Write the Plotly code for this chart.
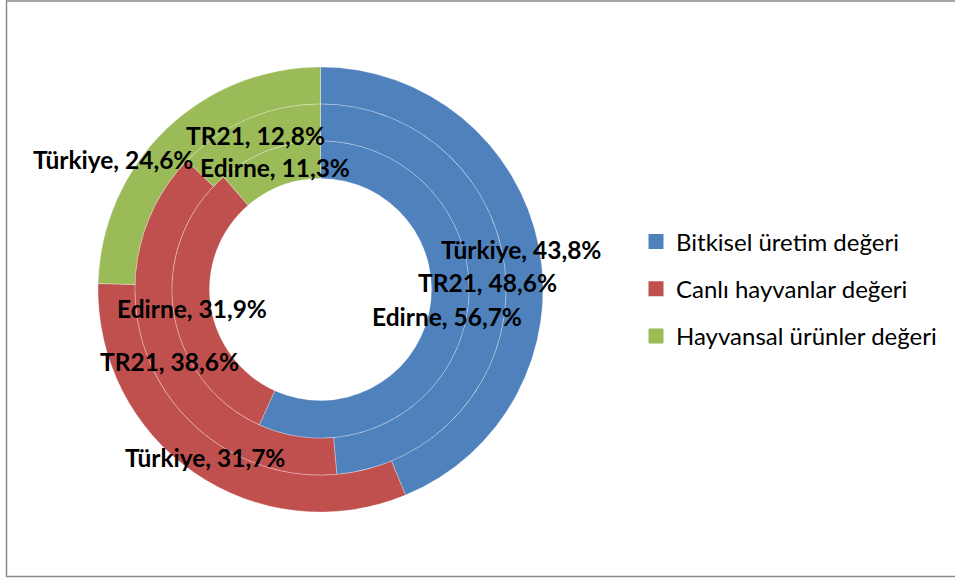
import math
import plotly.graph_objects as go

# ---- data ----
categories = ["Bitkisel üretim değeri", "Canlı hayvanlar değeri", "Hayvansal ürünler değeri"]
ring_names = ["Türkiye", "TR21", "Edirne"]          # outer -> inner
turkiye = [43.8, 31.7, 24.6]
tr21 = [48.6, 38.6, 12.8]
edirne = [56.7, 31.9, 11.3]
ring_values = [turkiye, tr21, edirne]
colors = ["#4F81BD", "#C0504D", "#9BBB59"]

# ---- layout geometry (pixels) ----
W, H = 955, 579
CX, CY = 320.5, 289.5
radii = [222.5, 185.5, 148.5, 111.0]
# manual label shift (Excel moved this label to avoid overlap)
label_shift = {(0, 2): (-65, 16)}

fig = go.Figure()
annotations = []
for i, (name, vals) in enumerate(zip(ring_names, ring_values)):
    r_out, r_in = radii[i], radii[i + 1]
    fig.add_trace(go.Pie(
        labels=categories, values=vals, name=name,
        sort=False, direction="clockwise", rotation=0,
        hole=r_in / r_out,
        marker=dict(colors=colors, line=dict(color="rgba(255,255,255,0.35)", width=0.8)),
        textinfo="none", hoverinfo="label+value+name",
        showlegend=False,
        domain=dict(x=[(CX - r_out) / W, (CX + r_out) / W],
                    y=[(H - CY - r_out) / H, (H - CY + r_out) / H]),
    ))
    total = sum(vals)
    cum = 0.0
    rm = (r_out + r_in) / 2
    for j, v in enumerate(vals):
        mid = (cum + v / 2) / total * 2 * math.pi
        cum += v
        px = CX + rm * math.sin(mid)
        py = CY - rm * math.cos(mid)
        dx, dy = label_shift.get((i, j), (0, 0))
        px += dx
        py += dy
        annotations.append(dict(
            x=px / W, y=1 - py / H, xref="paper", yref="paper",
            text=f"{name}, {v:.1f}%".replace(".", ","),
            showarrow=False, xanchor="center", yanchor="middle",
            font=dict(family="Lato", size=24.5, color="#000000", weight=700),
        ))

# legend entries
for cat, c in zip(categories, colors):
    fig.add_trace(go.Scatter(
        x=[None], y=[None], mode="markers", name=cat, legendgroup=cat,
        marker=dict(symbol="square", size=15, color=c), showlegend=True,
        hoverinfo="skip",
    ))

fig.update_layout(
    width=W, height=H,
    margin=dict(l=0, r=0, t=0, b=0),
    paper_bgcolor="white", plot_bgcolor="white",
    xaxis=dict(visible=False), yaxis=dict(visible=False),
    annotations=annotations,
    legend=dict(
        x=636 / W, y=1 - 289 / H, xanchor="left", yanchor="middle",
        font=dict(family="Lato", size=24, color="#000000"),
        traceorder="grouped", tracegroupgap=13,
        bgcolor="rgba(0,0,0,0)",
    ),
    shapes=[dict(type="rect", xref="paper", yref="paper",
                 x0=6.5 / W, x1=1.02, y0=(H - 576.5) / H, y1=(H - 1) / H,
                 line=dict(color="#898989", width=1.5), fillcolor="rgba(0,0,0,0)",
                 layer="below")],
)

fig.write_html("out.html",
               config={"displayModeBar": False},
               post_script="document.body.style.margin='0';document.body.style.overflow='hidden';")
